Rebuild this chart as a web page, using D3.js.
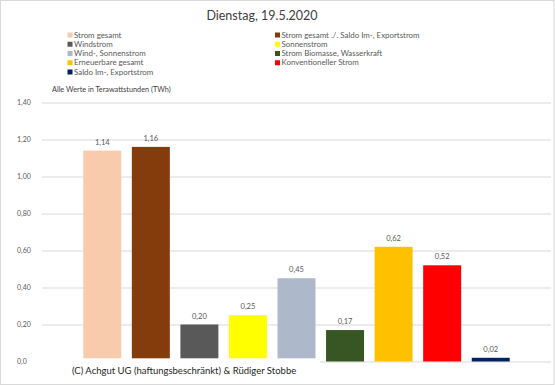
<!DOCTYPE html>
<meta charset="utf-8">
<body style="margin:0">
<script src="https://d3js.org/d3.v7.min.js"></script>
<svg></svg>
<script>
    var width = 555;
    var height = 385;

    // data
    var categories = ["Strom gesamt", "Strom gesamt ./. Saldo Im-, Exportstrom", "Windstrom", "Sonnenstrom",
        "Wind-, Sonnenstrom", "Strom Biomasse, Wasserkraft", "Erneuerbare gesamt", "Konventioneller Strom",
        "Saldo Im-, Exportstrom"];
    var values = [1.14, 1.16, 0.20, 0.25, 0.45, 0.17, 0.62, 0.52, 0.02];
    var colors = ["#F8CBAD", "#843C0C", "#595959", "#FFFF00", "#ADB9CA", "#375623", "#FFC000", "#FF0000", "#002060"];
    var tickValues = [0, 0.2, 0.4, 0.6, 0.8, 1.0, 1.2, 1.4];
    var tickLabels = ["0,0", "0,20", "0,40", "0,60", "0,80", "1,00", "1,20", "1,40"];

    var font = "Lato, 'Open Sans', sans-serif";

    var svg = d3.select("svg")
        .attr("width", width)
        .attr("height", height)
        .style("display", "block")
        .style("font-family", font);

    // chart border
    svg.append("rect")
        .attr("x", 0.5).attr("y", 0.5)
        .attr("width", width - 1.5).attr("height", height - 1)
        .attr("fill", "white")
        .attr("stroke", "#d9d9d9");

    var x = d3.scaleBand()
        .domain(categories)
        .range([78, 515])
        .paddingInner(0.218)
        .paddingOuter(0.109);

    var y = d3.scaleLinear()
        .domain([0, 1.4])
        .range([361.5, 102.5]);

    // gridlines + y labels
    var yAxis = svg.append("g")
        .attr("transform", "translate(42,0)")
        .call(d3.axisLeft(y)
            .tickValues(tickValues)
            .tickSize(-509)
            .tickFormat(function(d, i) { return tickLabels[i]; }));
    yAxis.select(".domain").remove();
    yAxis.selectAll(".tick line").attr("stroke", "#d9d9d9");
    yAxis.selectAll(".tick text")
        .attr("x", -25)
        .attr("text-anchor", "start")
        .attr("fill", "#595959")
        .style("font-family", font)
        .style("font-size", "7px");

    // bars
    svg.selectAll(".bar")
        .data(values)
        .enter().append("rect")
        .attr("class", "bar")
        .attr("x", function(d, i) { return x(categories[i]); })
        .attr("width", x.bandwidth())
        .attr("y", function(d) { return y(d); })
        .attr("height", function(d) { return y(0) - y(d); })
        .attr("fill", function(d, i) { return colors[i]; });

    // value labels
    svg.selectAll(".val")
        .data(values)
        .enter().append("text")
        .attr("x", function(d, i) { return x(categories[i]) + x.bandwidth() / 2; })
        .attr("y", function(d) { return y(d) - 6; })
        .attr("text-anchor", "middle")
        .attr("fill", "#595959")
        .style("font-size", "7.5px")
        .text(function(d) { return d.toFixed(2).replace(".", ","); });

    // title
    svg.append("text")
        .attr("x", 262).attr("y", 20)
        .attr("text-anchor", "middle")
        .attr("fill", "#404040")
        .style("font-size", "12.5px")
        .text("Dienstag, 19.5.2020");

    // legend, two columns
    var legend = svg.selectAll(".leg")
        .data(categories)
        .enter().append("g")
        .attr("transform", function(d, i) {
            return "translate(" + (i % 2 ? 275 : 67.5) + "," + (35 + Math.floor(i / 2) * 9.25) + ")";
        });
    legend.append("rect")
        .attr("x", 0).attr("y", -2.5)
        .attr("width", 5).attr("height", 5)
        .attr("fill", function(d, i) { return colors[i]; });
    legend.append("text")
        .attr("x", 6.5).attr("y", 2.7)
        .attr("fill", "#595959")
        .style("font-size", "7.9px")
        .text(function(d) { return d; });

    svg.append("text")
        .attr("x", 52).attr("y", 92)
        .attr("fill", "#404040")
        .style("font-size", "7.3px")
        .text("Alle Werte in Terawattstunden (TWh)");

    // copyright box sits over the bottom of the bars
    svg.append("rect")
        .attr("x", 36).attr("y", 358.3)
        .attr("width", 284).attr("height", 24)
        .attr("fill", "white");
    svg.append("text")
        .attr("x", 72).attr("y", 373.5)
        .attr("fill", "#262626")
        .style("font-size", "9.5px")
        .text("(C) Achgut UG (haftungsbeschränkt) & Rüdiger Stobbe");
</script>
